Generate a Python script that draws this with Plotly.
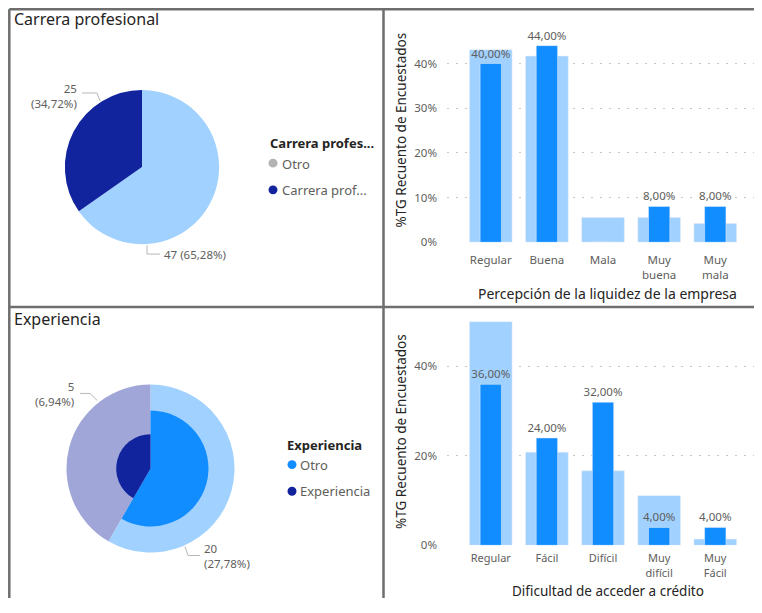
import plotly.graph_objects as go
import math

# la página deja 8px de margen: la figura ocupa 746x597
FW, FH = 746, 597
OFF = 8

# Carrera profesional (pie)
carrera_labels = ["Otro", "Carrera profesional"]
carrera_vals = [47, 25]

# Experiencia (pie: total y resaltado)
exp_labels = ["Otro", "Experiencia"]
exp_total = [42, 30]
exp_sel = [20, 5]

# Percepción de la liquidez de la empresa
liq_cats = ["Regular", "Buena", "Mala", "Muy<br>buena", "Muy<br>mala"]
liq_total = [0.4306, 0.4167, 0.0556, 0.0556, 0.0417]
liq_sel = [0.40, 0.44, 0.0, 0.08, 0.08]

# Dificultad de acceder a crédito
cred_cats = ["Regular", "Fácil", "Difícil", "Muy<br>difícil", "Muy<br>Fácil"]
cred_total = [0.50, 0.2083, 0.1667, 0.1111, 0.0139]
cred_sel = [0.36, 0.24, 0.32, 0.04, 0.04]

FONT = "Segoe UI, Noto Sans, sans-serif"
AZUL = "#118DFF"
AZUL_CLARO = "#A0D1FF"
MARINO = "#12239E"
LAVANDA = "#A0A7D8"
GRIS_TXT = "#605E5C"
OSCURO = "#252423"
NADA = "rgba(0,0,0,0)"


def px(x):
    return (x - OFF) / FW


def py(y):
    return 1 - (y - OFF) / FH


def dominio(cx, cy, r):
    return dict(x=[px(cx - r), px(cx + r)], y=[py(cy + r), py(cy - r)])


def pct(v, tot):
    return f"{v / tot * 100:.2f}%".replace(".", ",")


fig = go.Figure()

# --- pie superior
fig.add_trace(go.Pie(labels=carrera_labels, values=carrera_vals, sort=False,
                     direction="clockwise", rotation=0, textinfo="none",
                     marker=dict(colors=[AZUL_CLARO, MARINO]),
                     domain=dominio(142, 169, 78), showlegend=False))

# --- pie inferior: total + resaltado
cx, cy, r = 150.5, 474, 85
fig.add_trace(go.Pie(labels=exp_labels, values=exp_total, sort=False,
                     direction="clockwise", rotation=0, textinfo="none",
                     marker=dict(colors=[AZUL_CLARO, LAVANDA]),
                     domain=dominio(cx, cy, r), showlegend=False))
colores_sel = [AZUL, MARINO]
for i in range(len(exp_labels)):
    cols = [NADA] * len(exp_labels)
    cols[i] = colores_sel[i]
    f = math.sqrt(exp_sel[i] / exp_total[i])
    fig.add_trace(go.Pie(labels=exp_labels, values=exp_total, sort=False,
                         direction="clockwise", rotation=0, textinfo="none",
                         marker=dict(colors=cols),
                         domain=dominio(cx, cy, r * f), showlegend=False))


# --- barras
def barras(cats, tot, sel, xa, ya):
    fig.add_trace(go.Bar(x=cats, y=tot, width=0.76, marker_color=AZUL_CLARO,
                         xaxis=xa, yaxis=ya, showlegend=False))
    fig.add_trace(go.Bar(x=cats, y=sel, width=0.38, marker_color=AZUL,
                         text=[pct(v, 1) if v else "" for v in sel],
                         textposition="outside", cliponaxis=False,
                         constraintext="none",
                         textfont=dict(size=11.5, color=GRIS_TXT, family=FONT),
                         xaxis=xa, yaxis=ya, showlegend=False))


barras(liq_cats, liq_total, liq_sel, "x", "y")
barras(cred_cats, cred_total, cred_sel, "x2", "y2")

eje_x = dict(range=[-0.78, 4.69], domain=[px(447), 1], showgrid=False,
             zeroline=False, showline=False, ticks="",
             tickfont=dict(size=11.5, color=GRIS_TXT, family=FONT))
eje_y = dict(tickformat=".0%", showgrid=True, gridcolor="#C8C8C8",
             griddash="2px,7px", gridwidth=1, zeroline=False, showline=False,
             ticks="", ticklabelstandoff=9,
             tickfont=dict(size=11.5, color=GRIS_TXT, family=FONT))

fig.update_layout(
    width=FW, height=FH, margin=dict(l=0, r=0, t=0, b=0),
    paper_bgcolor="white", plot_bgcolor="white", barmode="overlay",
    font=dict(family=FONT, color=OSCURO),
    xaxis=dict(eje_x, anchor="y", ticklabelstandoff=9),
    yaxis=dict(eje_y, anchor="x", range=[0, 0.50],
               tickvals=[0, 0.1, 0.2, 0.3, 0.4], domain=[py(245), py(19)]),
    xaxis2=dict(eje_x, anchor="y2", ticklabelstandoff=5),
    yaxis2=dict(eje_y, anchor="x2", range=[0, 0.52], tickvals=[0, 0.2, 0.4],
                domain=[py(551.7), py(316.4)]),
)
fig.update_xaxes(tickfont_size=11, selector=dict(anchor="y2"))


# --- títulos y textos
def texto(t, x, y, size=12, color=OSCURO, xanchor="left", angle=0, **kw):
    fig.add_annotation(text=t, x=px(x), y=py(y), xref="paper", yref="paper",
                       showarrow=False, xanchor=xanchor, yanchor="middle",
                       textangle=angle, font=dict(size=size, color=color, family=FONT), **kw)


def punto(x, y, color, d=9):
    fig.add_shape(type="circle", xref="paper", yref="paper",
                  x0=px(x - d / 2), x1=px(x + d / 2), y0=py(y + d / 2), y1=py(y - d / 2),
                  fillcolor=color, line_width=0)


texto("Carrera profesional", 12, 19, size=16)
texto("Experiencia", 12, 323, size=16)

# leyendas
texto("<b>Carrera profes...</b>", 268, 145, size=13)
punto(273, 165, "#B3B3B3")
texto("Otro", 280, 166, size=13, color=GRIS_TXT)
punto(273, 192, MARINO)
texto("Carrera prof...", 280, 192, size=13, color=GRIS_TXT)
texto("<b>Experiencia</b>", 285, 450, size=13)
punto(292, 470, AZUL)
texto("Otro", 298, 470, size=13, color=GRIS_TXT)
punto(292, 497, MARINO)
texto("Experiencia", 298, 497, size=13, color=GRIS_TXT)

# etiquetas de los pies
tot_c = sum(carrera_vals)
texto(f"{carrera_vals[1]}<br>({pct(carrera_vals[1], tot_c)})", 79, 97, size=11.5,
      color=GRIS_TXT, xanchor="right", align="right")
texto(f"{carrera_vals[0]} ({pct(carrera_vals[0], tot_c)})", 162, 257, size=11.5,
      color=GRIS_TXT)
tot_e = sum(exp_total)
texto(f"{exp_sel[1]}<br>({pct(exp_sel[1], tot_e)})", 76, 399, size=11.5,
      color=GRIS_TXT, xanchor="right", align="right")
texto(f"{exp_sel[0]}<br>({pct(exp_sel[0], tot_e)})", 202, 563, size=11.5,
      color=GRIS_TXT, align="left")

# ejes de las barras
texto("%TG Recuento de Encuestados", 401, 132, size=13.5, xanchor="center", angle=-90)
texto("%TG Recuento de Encuestados", 401, 437, size=13.5, xanchor="center", angle=-90)
texto("Percepción de la liquidez de la empresa", 607, 297, size=14, xanchor="center")
texto("Dificultad de acceder a crédito", 608, 598, size=13.5, xanchor="center")

# líneas guía de etiquetas
guia = dict(color="#B8B8B8", width=1)
for pts in [[(82, 94), (97, 94), (100, 102)],
            [(147, 248), (147, 257), (160, 257)],
            [(80, 398), (90, 398), (97, 405)],
            [(185, 553), (188, 562), (200, 562)]]:
    d = "M " + " L ".join(f"{px(a)} {py(b)}" for a, b in pts)
    fig.add_shape(type="path", path=d, xref="paper", yref="paper", line=guia)

# bordes de los paneles
borde = dict(color="#6E6E6E", width=2.5)
bx, by = 9.3, 9.3
fig.add_shape(type="line", x0=px(bx), x1=px(bx), y0=py(by), y1=0, xref="paper", yref="paper", line=borde)
fig.add_shape(type="line", x0=px(bx), x1=1, y0=py(by), y1=py(by), xref="paper", yref="paper", line=borde)
fig.add_shape(type="line", x0=px(383.5), x1=px(383.5), y0=py(by), y1=0, xref="paper", yref="paper", line=borde)
fig.add_shape(type="line", x0=px(bx), x1=1, y0=py(310.5), y1=py(310.5), xref="paper", yref="paper", line=borde)

fig.write_html("out.html", config={"displayModeBar": False})
